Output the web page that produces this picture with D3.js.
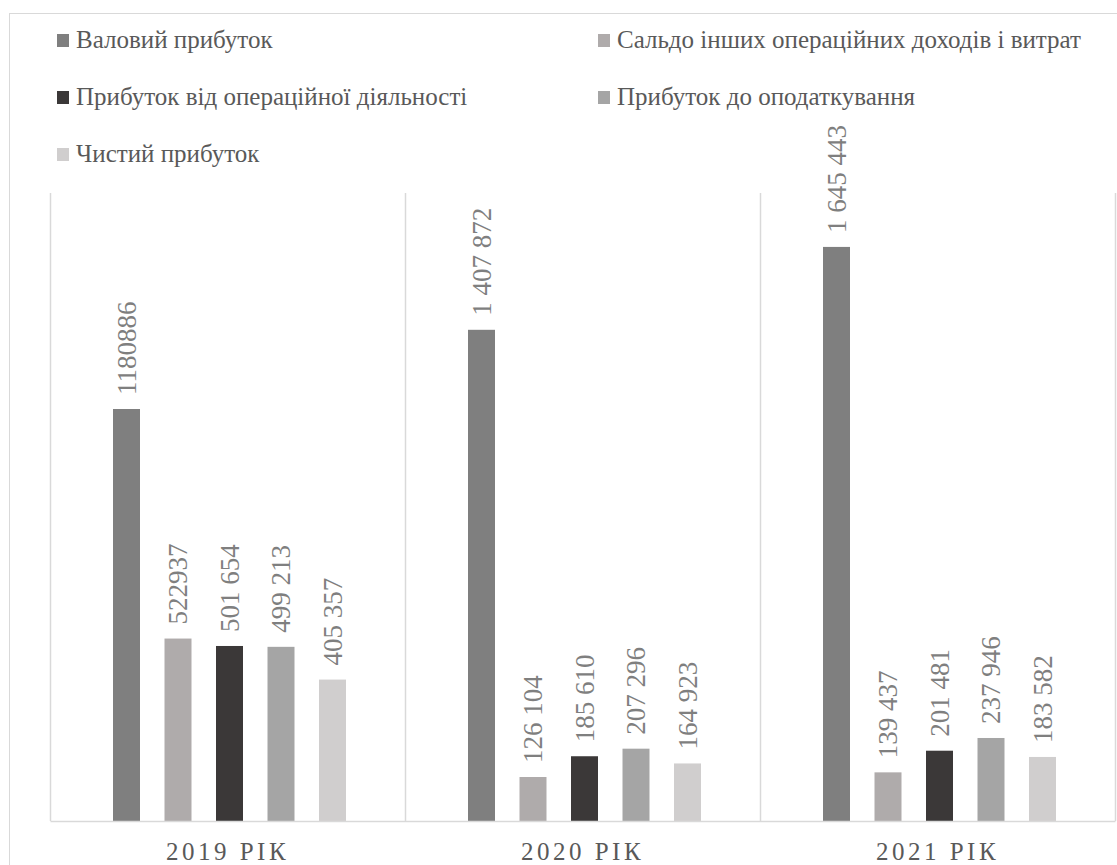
<!DOCTYPE html>
<html><head><meta charset="utf-8">
<script src="https://cdn.jsdelivr.net/npm/d3@7"></script>
</head><body style="margin:0">
<svg id="c" width="1117" height="865" style="display:block;font-family:'Liberation Serif',serif"></svg>
<script>
const categories = ["2019 РІК", "2020 РІК", "2021 РІК"];
const seriesNames = ["Валовий прибуток", "Сальдо інших операційних доходів і витрат", "Прибуток від операційної діяльності", "Прибуток до оподаткування", "Чистий прибуток"];
const seriesColors = ["#7f7f7f", "#afabab", "#3b3838", "#a5a5a5", "#d0cece"];
const valovyi = [1180886, 1407872, 1645443];
const saldo = [522937, 126104, 139437];
const operatsiinyi = [501654, 185610, 201481];
const doOpodatkuvannia = [499213, 207296, 237946];
const chystyi = [405357, 164923, 183582];
const labelText = [
  ["1180886", "1 407 872", "1 645 443"],
  ["522937", "126 104", "139 437"],
  ["501 654", "185 610", "201 481"],
  ["499 213", "207 296", "237 946"],
  ["405 357", "164 923", "183 582"]
];
const series = [valovyi, saldo, operatsiinyi, doOpodatkuvannia, chystyi];

(function () {
const svg = d3.select("#c");
const FONT = "Liberation Serif";
const pLeft = 50, pRight = 1115, pTop = 193, pBottom = 821;

svg.append("rect").attr("x", 9.5).attr("y", 13.5).attr("width", 1120).attr("height", 870)
  .attr("fill", "none").attr("stroke", "#d9d9d9");

const x0 = d3.scaleBand().domain(categories).range([pLeft, pRight]).padding(0);
const y = d3.scaleLinear().domain([0, 1800000]).range([pBottom, pTop]);

const seps = categories.map(c => x0(c)).concat([pRight]);
svg.append("g").selectAll("line").data(seps).join("line")
  .attr("x1", d => d + 0.5).attr("x2", d => d + 0.5).attr("y1", pTop).attr("y2", pBottom)
  .attr("stroke", "#d9d9d9").attr("stroke-width", 1.5);

const bw = 27;
const step = 51.5;
categories.forEach((c, ci) => {
  const cx = x0(c) + x0.bandwidth() / 2 + 2;
  series.forEach((s, si) => {
    const bx = cx + (si - 2) * step - bw / 2;
    svg.append("rect").attr("x", bx).attr("y", y(s[ci])).attr("width", bw)
      .attr("height", y(0) - y(s[ci])).attr("fill", seriesColors[si]);
    const lx = bx + bw / 2 + 9, ly = y(s[ci]) - 14;
    svg.append("text").attr("transform", `translate(${lx},${ly}) rotate(-90)`)
      .attr("font-family", FONT).style("font-family", FONT).attr("font-size", 27).attr("fill", "#7f7f7f")
      .attr("text-anchor", "start").text(labelText[si][ci]);
  });
});

const xAxis = d3.axisBottom(x0).tickSize(0).tickPadding(0);
const ag = svg.append("g").attr("transform", `translate(0,${pBottom})`).call(xAxis);
ag.attr("font-family", FONT).style("font-family", FONT);
ag.select(".domain").attr("stroke", "#d9d9d9").attr("stroke-width", 1.5);
ag.selectAll("text").attr("font-family", FONT).style("font-family", FONT).attr("font-size", 25).attr("fill", "#595959")
  .attr("letter-spacing", 3.5).attr("dy", 39);

const legPos = [[57, 48], [598, 48], [57, 105], [598, 105], [57, 162]];
seriesNames.forEach((n, i) => {
  const [lx, ly] = legPos[i];
  svg.append("rect").attr("x", lx).attr("y", ly - 14).attr("width", 12).attr("height", 13).attr("fill", seriesColors[i]);
  svg.append("text").attr("x", lx + 19).attr("y", ly).attr("font-family", FONT).style("font-family", FONT).attr("font-size", 25)
    .attr("fill", "#595959").text(n);
});
})();
</script>
</body></html>
